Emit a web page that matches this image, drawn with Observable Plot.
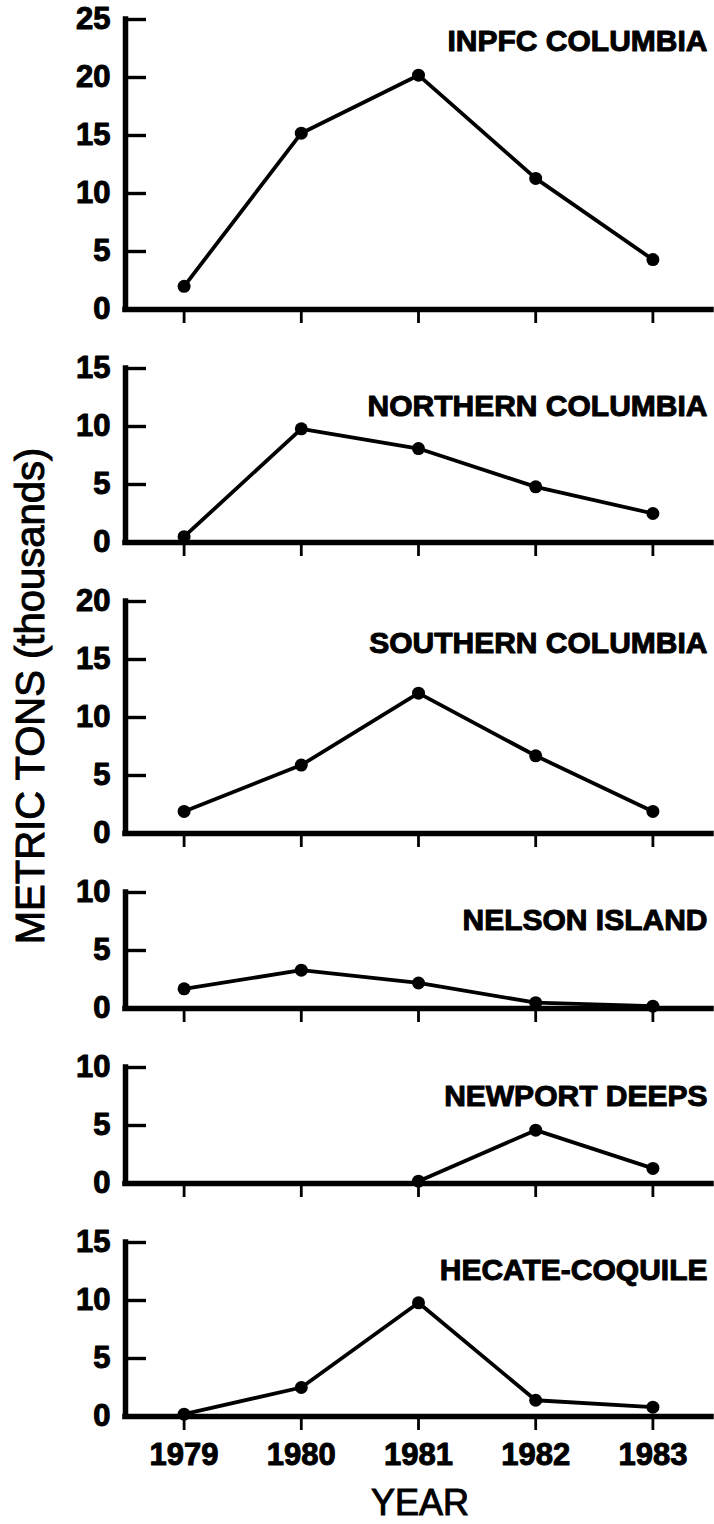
<!DOCTYPE html>
<html>
<head>
<meta charset="utf-8">
<script src="https://cdn.jsdelivr.net/npm/d3@7"></script>
<script src="https://cdn.jsdelivr.net/npm/@observablehq/plot@0.6"></script>
<style>
  body { margin: 0; background: #fff; }
  #fig { position: relative; width: 714px; height: 1524px; background: #fff;
         font-family: "Liberation Sans", Arial, Helvetica, sans-serif; }
  #overlay { position: absolute; left: 0; top: 0; pointer-events: none; }
</style>
</head>
<body>
<div id="fig"></div>
<script>
// ---- data ----
const years = [1979, 1980, 1981, 1982, 1983];
const regions = ["INPFC COLUMBIA", "NORTHERN COLUMBIA", "SOUTHERN COLUMBIA",
                 "NELSON ISLAND", "NEWPORT DEEPS", "HECATE-COQUILE"];
const inpfcColumbia    = [2.0, 15.2, 20.2, 11.3, 4.3];
const northernColumbia = [0.5, 9.8, 8.1, 4.8, 2.5];
const southernColumbia = [1.9, 5.9, 12.1, 6.7, 1.9];
const nelsonIsland     = [1.7, 3.3, 2.2, 0.5, 0.2];
const newportDeeps     = [null, null, 0.2, 4.6, 1.3];
const hecateCoquile    = [0.2, 2.5, 9.8, 1.4, 0.8];
const axisMax = [25, 15, 20, 10, 10, 15];
const yTickStep = 5;
const yTitle = "METRIC TONS (thousands)";
const xTitle = "YEAR";

// ---- layout ----
const W = 714;
const UNIT = 11.6;           // px per thousand tons
const titleOffsets = [22, 38, 42, 28, 29, 28];
const FONT = '"Liberation Sans", Arial, Helvetica, sans-serif';

const series = [inpfcColumbia, northernColumbia, southernColumbia,
                nelsonIsland, newportDeeps, hecateCoquile];
const xDomain = [years[0] - 0.5, years[years.length - 1] + 0.5];
const fig = document.getElementById("fig");

series.forEach((vals, i) => {
  const data = years.map((year, j) => ({year, value: vals[j]})).filter(d => d.value != null);
  const last = i === series.length - 1;
  const top = i === 0 ? 19 : 20;
  const bottom = last ? 108 : 39;
  const plotH = axisMax[i] * UNIT;
  const yTicks = d3.range(0, axisMax[i] + 1, yTickStep);
  const plot = Plot.plot({
    width: W,
    height: top + plotH + bottom,
    marginTop: top,
    marginBottom: bottom,
    marginLeft: 125,
    marginRight: 3,
    x: {domain: xDomain},
    y: {domain: [0, axisMax[i]]},
    style: {fontFamily: FONT, fontSize: "31px", fontWeight: "bold", color: "black",
            background: "white", overflow: "visible"},
    marks: [
      // inward y ticks
      Plot.axisY({ticks: yTicks, tickSize: -21, strokeWidth: 3.4, text: null, label: null}),
      // y tick labels
      Plot.axisY({ticks: yTicks, tickSize: 0, tickPadding: 15, tickFormat: d => String(d), label: null,
                  fontSize: 31, fontWeight: "bold", textStroke: "black", textStrokeWidth: 1}),
      // year ticks (labels only on the bottom panel)
      Plot.axisX({ticks: years, tickSize: 14, strokeWidth: 2.8, text: null, label: null}),
      ...(last ? [Plot.axisX({ticks: years, tickSize: 0, tickPadding: 26, tickFormat: d => String(d),
                              label: null, fontSize: 31, fontWeight: "bold",
                              textStroke: "black", textStrokeWidth: 1})] : []),
      Plot.ruleX([xDomain[0]], {y1: 0, y2: axisMax[i], strokeWidth: 5.5, strokeLinecap: "square"}),
      Plot.ruleY([0], {x1: xDomain[0], x2: xDomain[1], strokeWidth: 5.5, strokeLinecap: "square"}),
      Plot.line(data, {x: "year", y: "value", strokeWidth: 3.8, stroke: "black"}),
      Plot.dot(data, {x: "year", y: "value", r: 6.5, fill: "black", stroke: "none"}),
      Plot.text([regions[i]], {text: d => d, frameAnchor: "top-right", dx: -4, dy: titleOffsets[i],
                               lineAnchor: "middle", textAnchor: "end",
                               fontSize: 30, fontWeight: "bold", fill: "black",
                               stroke: "black", strokeWidth: 1})
    ]
  });
  fig.appendChild(plot);
});

// ---- axis titles overlay ----
const overlay = d3.create("svg")
  .attr("id", "overlay")
  .attr("width", W)
  .attr("height", 1524)
  .style("font-family", FONT);
overlay.append("text")
  .attr("transform", "translate(44,696) rotate(-90)")
  .attr("text-anchor", "middle")
  .attr("font-size", 40)
  .attr("fill", "black")
  .attr("stroke", "black")
  .attr("stroke-width", 1)
  .text(yTitle);
overlay.append("text")
  .attr("x", 420)
  .attr("y", 1515)
  .attr("text-anchor", "middle")
  .attr("font-size", 36)
  .attr("fill", "black")
  .attr("stroke", "black")
  .attr("stroke-width", 1)
  .text(xTitle);
fig.appendChild(overlay.node());
</script>
</body>
</html>
